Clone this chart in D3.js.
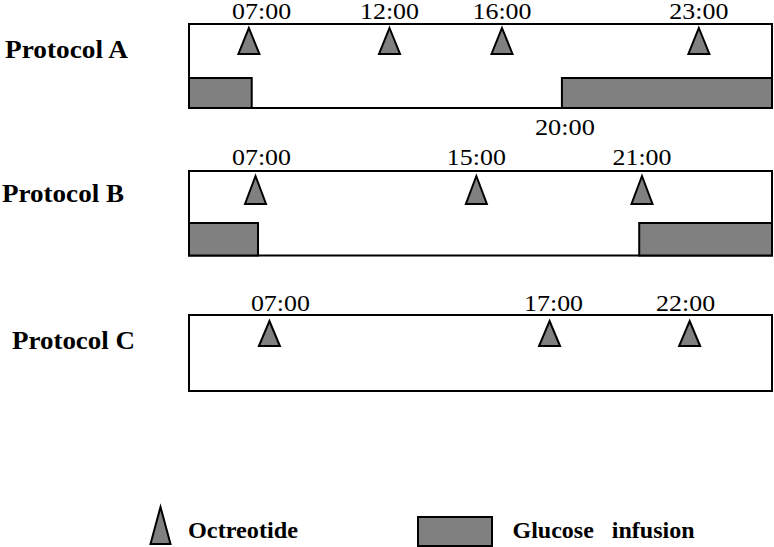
<!DOCTYPE html>
<html>
<head>
<meta charset="utf-8">
<script src="https://cdn.jsdelivr.net/npm/d3@7"></script>
<style>
  html, body { margin: 0; padding: 0; background: #fff; }
  svg { display: block; }
  text { font-family: "Liberation Serif", "DejaVu Serif", serif; fill: #000; }
</style>
</head>
<body>
<svg id="chart" width="774" height="547"></svg>
<script>
// ---------------- DATA ----------------
const protocols = ["Protocol A", "Protocol B", "Protocol C"];

// Octreotide dose times (hours) and their tick labels
const octreotideA = [7, 12, 16, 23];
const octreotideB = [7, 15, 21];
const octreotideC = [7, 17, 22];
const doseLabelsA = ["07:00", "12:00", "16:00", "23:00"];
const doseLabelsB = ["07:00", "15:00", "21:00"];
const doseLabelsC = ["07:00", "17:00", "22:00"];

// Time window shown by each (schematic) protocol box, in hours
const windowA = [4.87, 25.6];
const windowB = [4.59, 25.71];
const windowC = [4.13, 24.94];

// Glucose infusion periods [from, to] in schematic hours (null = box edge)
const glucoseA = [[null, 7.1], [18.13, null]];
const glucoseB = [[null, 7.09], [20.9, null]];
const glucoseC = [];
const glucoseStartLabelA = "20:00";

const legendLabels = ["Octreotide", "Glucose   infusion"];

// ---------------- LAYOUT ----------------
const svg = d3.select("#chart");
const GRAY = "#808080";
const boxLeft = 189, boxRight = 772;

const rows = [
  { name: protocols[0], doses: octreotideA, labels: doseLabelsA, win: windowA, glucose: glucoseA,
    top: 24, bottom: 108, band: 78, nameX: 5, nameY: 58.3, nameW: 123, timeY: 19,
    apex: 28, base: 54, nudge: [12.7, 0, 0, 0] },
  { name: protocols[1], doses: octreotideB, labels: doseLabelsB, win: windowB, glucose: glucoseB,
    top: 171, bottom: 255.5, band: 223, nameX: 2, nameY: 201.7, nameW: 122, timeY: 164.5,
    apex: 176, base: 204, nudge: [6, 0, 0] },
  { name: protocols[2], doses: octreotideC, labels: doseLabelsC, win: windowC, glucose: glucoseC,
    top: 315, bottom: 391, band: null, nameX: 12, nameY: 349.3, nameW: 123, timeY: 311,
    apex: 321, base: 346, nudge: [11, 4, -4] }
];

const triHalf = 10.5;

rows.forEach((r, ri) => {
  const x = d3.scaleLinear().domain(r.win).range([boxLeft, boxRight]);
  const g = svg.append("g");

  // protocol name
  g.append("text")
    .attr("x", r.nameX).attr("y", r.nameY)
    .attr("font-size", 25).attr("font-weight", "bold")
    .attr("textLength", r.nameW).attr("lengthAdjust", "spacingAndGlyphs")
    .text(r.name);

  // box
  g.append("rect")
    .attr("x", x(r.win[0])).attr("y", r.top)
    .attr("width", x(r.win[1]) - x(r.win[0])).attr("height", r.bottom - r.top)
    .attr("fill", "#fff").attr("stroke", "#000").attr("stroke-width", 2);

  // glucose infusion bars
  g.selectAll("rect.glu").data(r.glucose).join("rect")
    .attr("class", "glu")
    .attr("x", d => x(d[0] == null ? r.win[0] : d[0]))
    .attr("y", r.band)
    .attr("width", d => x(d[1] == null ? r.win[1] : d[1]) - x(d[0] == null ? r.win[0] : d[0]))
    .attr("height", r.bottom - r.band)
    .attr("fill", GRAY).attr("stroke", "#000").attr("stroke-width", 2);

  // octreotide triangles
  g.selectAll("path.tri").data(r.doses).join("path")
    .attr("class", "tri")
    .attr("d", d => {
      const cx = x(d);
      return `M${cx},${r.apex}L${cx + triHalf},${r.base}L${cx - triHalf},${r.base}Z`;
    })
    .attr("fill", GRAY).attr("stroke", "#000").attr("stroke-width", 2)
    .attr("stroke-linejoin", "miter");

  // dose time labels
  g.selectAll("text.tl").data(r.doses).join("text")
    .attr("class", "tl")
    .attr("x", (d, i) => x(d) + r.nudge[i]).attr("y", r.timeY)
    .attr("text-anchor", "middle").attr("font-size", 23)
    .attr("textLength", 59).attr("lengthAdjust", "spacingAndGlyphs")
    .text((d, i) => r.labels[i]);

  // glucose restart label for protocol A
  if (ri === 0) {
    g.append("text")
      .attr("x", x(glucoseA[1][0]) + 3).attr("y", 134.5)
      .attr("text-anchor", "middle").attr("font-size", 23)
      .attr("textLength", 60).attr("lengthAdjust", "spacingAndGlyphs")
      .text(glucoseStartLabelA);
  }
});

// ---------------- LEGEND ----------------
const lg = svg.append("g");
lg.append("path")
  .attr("d", "M160.5,507L170.5,544L150.5,544Z")
  .attr("fill", GRAY).attr("stroke", "#000").attr("stroke-width", 2);
lg.append("text")
  .attr("x", 188).attr("y", 538.3)
  .attr("font-size", 22.5).attr("font-weight", "bold")
  .attr("textLength", 110).attr("lengthAdjust", "spacingAndGlyphs")
  .text(legendLabels[0]);
lg.append("rect")
  .attr("x", 418).attr("y", 517).attr("width", 74).attr("height", 29)
  .attr("fill", GRAY).attr("stroke", "#000").attr("stroke-width", 2);
lg.append("text")
  .attr("x", 512.5).attr("y", 538.3)
  .attr("font-size", 22.5).attr("font-weight", "bold")
  .attr("textLength", 182).attr("lengthAdjust", "spacingAndGlyphs")
  .attr("xml:space", "preserve").style("white-space", "pre")
  .text(legendLabels[1]);
</script>
</body>
</html>
